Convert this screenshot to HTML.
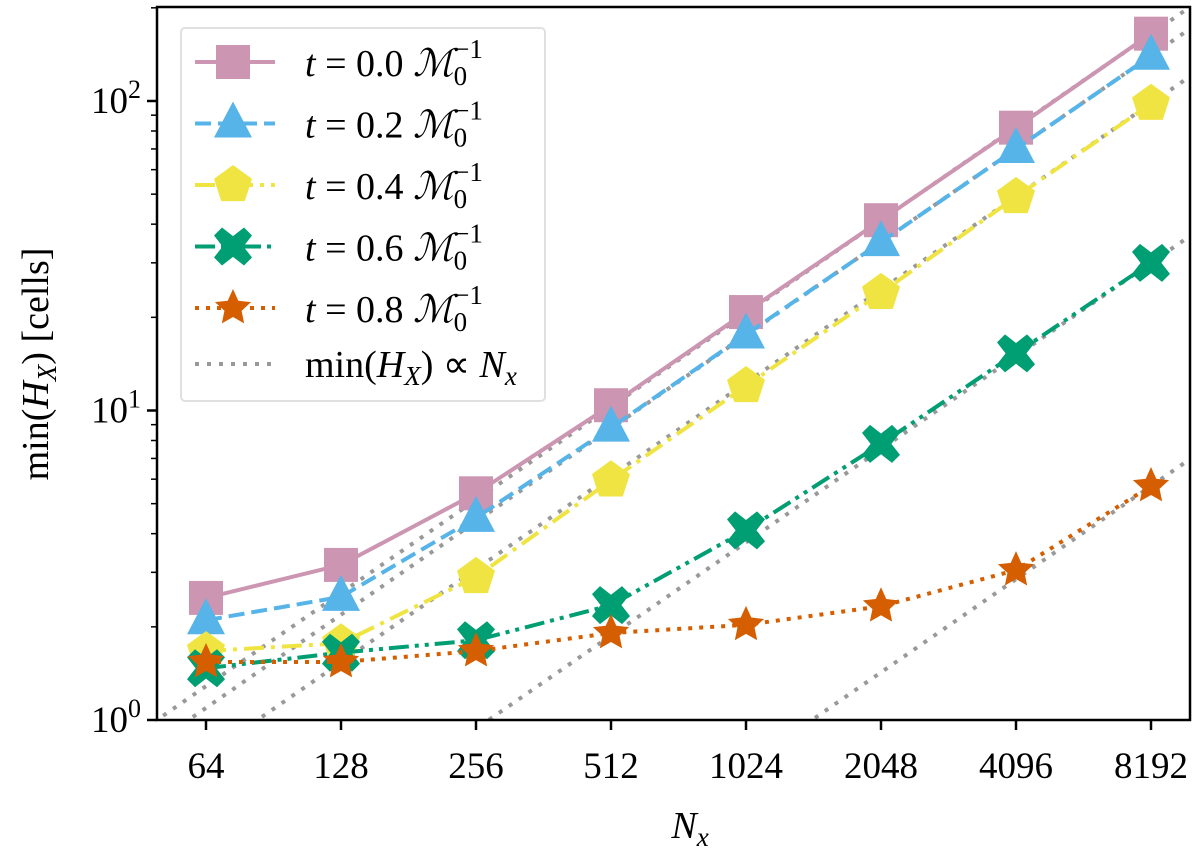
<!DOCTYPE html>
<html><head><meta charset="utf-8"><style>
html,body{margin:0;padding:0;background:#fff;overflow:hidden;}
svg{display:block;}
svg text{font-family:"Liberation Serif","Times New Roman",serif;fill:#000;}
</style></head><body>
<svg id="chart" width="1200" height="858" viewBox="0 0 1200 858" xmlns="http://www.w3.org/2000/svg">
<g id="lines"></g><g id="marks"></g>
<rect x="157" y="7" width="1033" height="713" fill="none" stroke="#000" stroke-width="2.5"/>
<g id="ticks"></g>
<g id="legend"></g>
<text x="690" y="838" font-size="38" font-style="italic" text-anchor="middle">N<tspan font-size="27" dy="8">x</tspan></text>
<text transform="translate(48,364) rotate(-90)" font-size="38" text-anchor="middle">min(<tspan font-style="italic">H</tspan><tspan font-size="27" font-style="italic" dy="8">X</tspan><tspan dy="-8">) [cells]</tspan></text>
</svg>
<script>
const categories=[64,128,256,512,1024,2048,4096,8192];
const s00=[2.48,3.17,5.4,10.4,20.8,41.2,82,165];
const s02=[2.1,2.5,4.5,8.8,17.6,35,70,140];
const s04=[1.67,1.77,2.9,5.95,12,24,49,98];
const s06=[1.47,1.65,1.81,2.35,4.1,7.8,15.3,30];
const s08=[1.54,1.54,1.67,1.91,2.03,2.33,3.05,5.7];
const refCoeffs=[0.0201,0.0171,0.012,0.00366,0.000696];
const yTicks=[1,10,100];
const yTickLabels=["0","1","2"];
const NS="http://www.w3.org/2000/svg";
const L=157,R=1190,T=7,B=720;
function xs(n){return 206+135*Math.log2(n/64);}
function ys(v){return 720-309.5*Math.log10(v);}
function el(tag,attrs,parent){const e=document.createElementNS(NS,tag);for(const k in attrs)e.setAttribute(k,attrs[k]);parent.appendChild(e);return e;}
const lines=document.getElementById('lines'),marks=document.getElementById('marks'),ticks=document.getElementById('ticks'),leg=document.getElementById('legend');
const defs=el('defs',{},document.getElementById('chart'));
const cp=el('clipPath',{id:'clip'},defs);el('rect',{x:L,y:T,width:R-L,height:B-T},cp);
lines.setAttribute('clip-path','url(#clip)');
refCoeffs.forEach((c,i)=>{
 const n1=16,n2=32768;
 const ln=el('line',{x1:xs(n1),y1:ys(c*n1),x2:xs(n2),y2:ys(c*n2),stroke:'#999','stroke-width':4,'stroke-dasharray':'4 8'},lines);
 
 
});
const series=[
 {d:s00,c:'#CC95B1',dash:'',m:'square',name:'0.0'},
 {d:s02,c:'#56B4E9',dash:'16 7',m:'tri',name:'0.2'},
 {d:s04,c:'#F0E442',dash:'20 7 4 7',m:'pent',name:'0.4'},
 {d:s06,c:'#009E73',dash:'20 6 4 6 4 6',m:'x',name:'0.6'},
 {d:s08,c:'#D55E00',dash:'4 7',m:'star',name:'0.8'}];
function marker(type,x,y,c,parent){
 let e;
 if(type==='square')e=el('rect',{x:x-17,y:y-17,width:34,height:34,fill:c},parent);
 else if(type==='tri')e=el('polygon',{points:`${x},${y-22} ${x-19},${y+14} ${x+19},${y+14}`,fill:c},parent);
 else if(type==='pent'){let p=[];for(let k=0;k<5;k++){const a=-Math.PI/2+k*2*Math.PI/5;p.push((x+20*Math.cos(a))+','+(y+20*Math.sin(a)));}e=el('polygon',{points:p.join(' '),fill:c},parent);}
 else if(type==='x'){const a=8,b=19;e=el('polygon',{points:[
  [0,-a*1.3],[b-a,-b],[b,-b+a],[a*1.3,0],[b,b-a],[b-a,b],[0,a*1.3],[-b+a,b],[-b,b-a],[-a*1.3,0],[-b,-b+a],[-b+a,-b]].map(p=>(x+p[0])+','+(y+p[1])).join(' '),fill:c},parent);}
 else {let p=[];for(let k=0;k<10;k++){const r=k%2?9:19;const a=-Math.PI/2+k*Math.PI/5;p.push((x+r*Math.cos(a))+','+(y+r*Math.sin(a)));}e=el('polygon',{points:p.join(' '),fill:c},parent);}
 return e;
}
series.forEach((s,i)=>{
 const pl=el('polyline',{points:s.d.map((v,j)=>xs(categories[j])+','+ys(v)).join(' '),fill:'none',stroke:s.c,'stroke-width':4,'stroke-dasharray':s.dash},marks);
 
 
 s.d.forEach((v,j)=>{
  const m=marker(s.m,xs(categories[j]),ys(v),s.c,marks);
  
  
 });
});
categories.forEach(n=>{
 el('line',{x1:xs(n),y1:B,x2:xs(n),y2:B+10,stroke:'#000','stroke-width':2.5},ticks);
 const t=el('text',{x:xs(n),y:B+58,'font-size':37,'text-anchor':'middle'},ticks);t.textContent=n;
 
 
});
yTicks.forEach((v,i)=>{
 el('line',{x1:L-10,y1:ys(v),x2:L,y2:ys(v),stroke:'#000','stroke-width':2.5},ticks);
 const t=el('text',{x:L-16,y:ys(v)+12,'font-size':37,'text-anchor':'end'},ticks);
 t.innerHTML='10<tspan font-size="26" dy="-15">'+yTickLabels[i]+'</tspan>';
 
 
});
for(let d=0;d<3;d++)for(let k=2;k<10;k++){const v=k*Math.pow(10,d);if(ys(v)<T)continue;el('line',{x1:L-6,y1:ys(v),x2:L,y2:ys(v),stroke:'#000','stroke-width':1.5},ticks);}
el('rect',{x:181,y:28,width:364,height:373,rx:4,fill:'#fff',stroke:'#ddd','stroke-width':2,opacity:0.9},leg);
series.forEach((s,i)=>{
 const y=62+i*61.5;
 el('line',{x1:195,y1:y,x2:275,y2:y,stroke:s.c,'stroke-width':4,'stroke-dasharray':s.dash},leg);
 marker(s.m,233,y,s.c,leg);
 const t=el('text',{x:305,y:y+14,'font-size':38},leg);
 t.innerHTML='<tspan font-style="italic">t</tspan> = '+s.name+' <tspan font-style="italic">ℳ</tspan><tspan font-size="27" dy="9">0</tspan><tspan font-size="27" dx="-13" dy="-27">−1</tspan>';
 
 
});
el('line',{x1:195,y1:364,x2:275,y2:364,stroke:'#999','stroke-width':4,'stroke-dasharray':'4 8'},leg);
const lt=el('text',{x:305,y:377,'font-size':38},leg);
lt.innerHTML='min(<tspan font-style="italic">H</tspan><tspan font-size="27" font-style="italic" dy="8">X</tspan><tspan dy="-8">) ∝ </tspan><tspan font-style="italic">N</tspan><tspan font-size="27" font-style="italic" dy="8">x</tspan>';


</script>
</body></html>
